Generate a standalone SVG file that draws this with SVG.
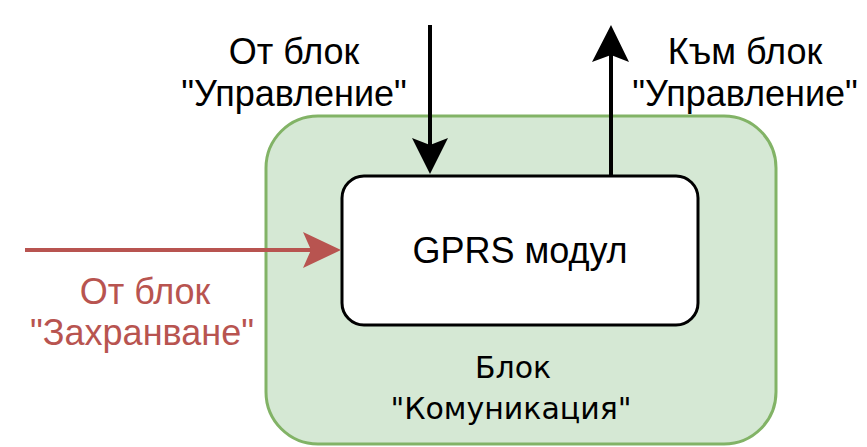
<svg xmlns="http://www.w3.org/2000/svg" width="867" height="447" viewBox="0 0 867 447">
<style>
.t{font-family:"Liberation Sans",Arial,sans-serif;font-size:36px;text-anchor:middle;fill:#000}
.r{fill:#b85450}
.b{font-family:"DejaVu Sans",Tahoma,sans-serif;font-size:30px;text-anchor:middle;fill:#000}
.ln{fill:none;stroke-width:4}
</style>
<g id="block-komunikaciya">
<rect x="266" y="116" width="510" height="328" rx="52" fill="#d5e8d4" stroke="#82b366" stroke-width="3"/>
<text class="b" x="513" y="378">Блок</text>
<text class="b" x="511" y="419">"Комуникация"</text>
</g>
<g id="gprs">
<rect x="342" y="176" width="356" height="149" rx="22" fill="#fff" stroke="#000" stroke-width="3"/>
<text class="t" x="520" y="263">GPRS модул</text>
</g>
<g id="labels">
<text class="t" x="294" y="64">От блок</text>
<text class="t" x="294" y="106">"Управление"</text>
<text class="t" x="745" y="64">Към блок</text>
<text class="t" x="745" y="106">"Управление"</text>
<text class="t r" x="145" y="304">От блок</text>
<text class="t r" x="142" y="345">"Захранване"</text>
</g>
<g id="connectors">
<path class="ln" d="M430,25 V146" stroke="#000"/>
<path d="M412,138 L430,174 L448,138 L430,145 Z" fill="#000"/>
<path class="ln" d="M611,175 V55" stroke="#000"/>
<path d="M592,62 L611,25 L629,62 L611,55 Z" fill="#000"/>
<path class="ln" d="M25,250 H312" stroke="#b85450"/>
<path d="M303,232 L341,250 L303,268 L311,250 Z" fill="#b85450"/>
</g>
</svg>
